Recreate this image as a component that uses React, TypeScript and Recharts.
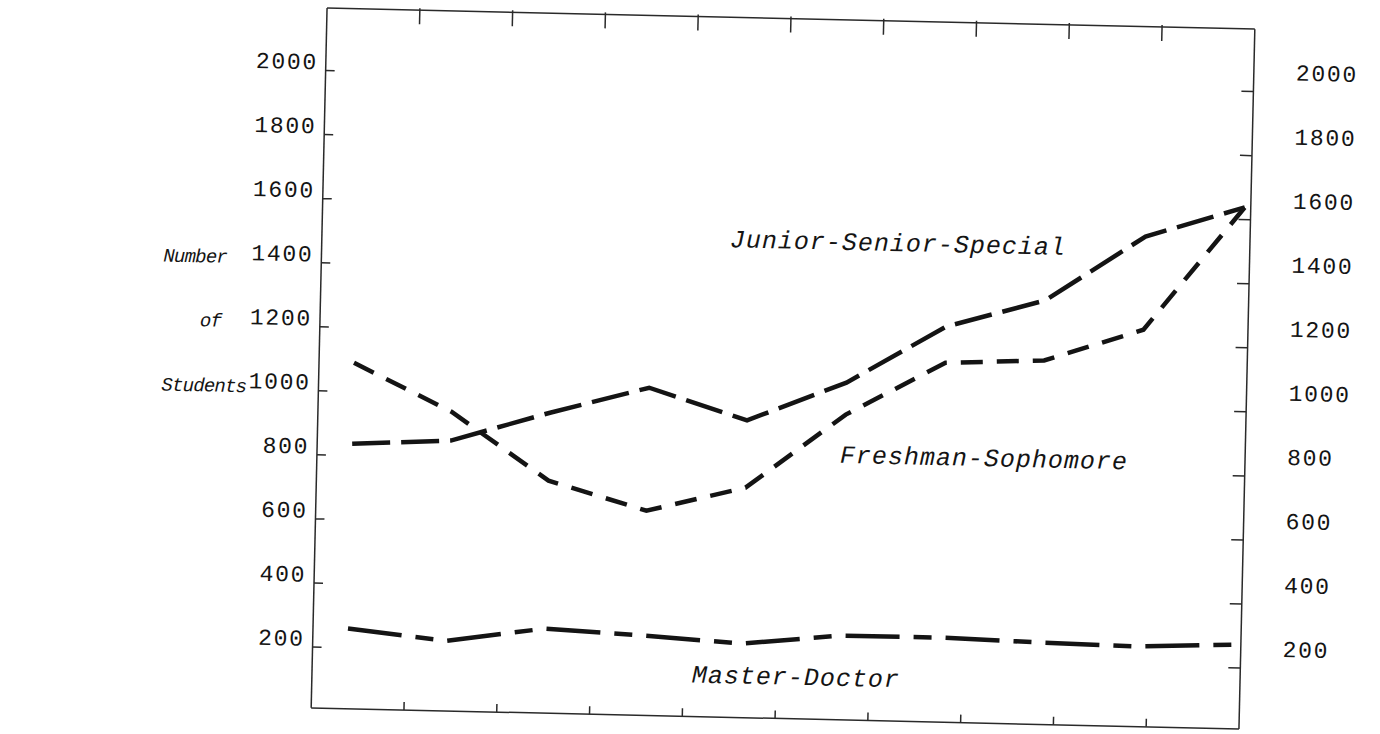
import React from "react";
import { LineChart, Line, XAxis, YAxis } from "recharts";

const periods = ["1", "2", "3", "4", "5", "6", "7", "8", "9", "10"];
const juniorSeniorSpecial = [837, 854, 948, 1033, 938, 1063, 1245, 1334, 1540, 1638];
const freshmanSophomore = [1090, 944, 736, 649, 728, 963, 1132, 1146, 1249, 1638];
const masterDoctor = [260, 229, 274, 259, 241, 273, 274, 266, 260, 273];
const yTicks = [200, 400, 600, 800, 1000, 1200, 1400, 1600, 1800, 2000];
const frameTicks = [1, 2, 3, 4, 5, 6, 7, 8, 9];

const data = periods.map((p, i) => ({
  period: p,
  jss: juniorSeniorSpecial[i],
  fs: freshmanSophomore[i],
  md: masterDoctor[i],
}));

const INK = "#141414";
const FRAME = "#2a2a2a";
const MONO = "'Liberation Mono', 'DejaVu Sans Mono', monospace";

const LeftTick = (props: any) => {
  const { x, y, payload } = props;
  return (
    <g>
      <line x1={x} y1={y} x2={x + 9} y2={y} stroke={FRAME} strokeWidth={1.5} />
      <text x={x - 8} y={y - 9} dy="0.35em" textAnchor="end" fontFamily={MONO} fontSize={23} letterSpacing={1.7} fill={INK}>
        {payload.value}
      </text>
    </g>
  );
};

const RightTick = (props: any) => {
  const { x, y, payload } = props;
  return (
    <g>
      <line x1={x - 12} y1={y} x2={x} y2={y} stroke={FRAME} strokeWidth={1.5} />
      <text x={x + 42} y={y - 20} dy="0.35em" textAnchor="start" fontFamily={MONO} fontSize={23} letterSpacing={1.7} fill={INK}>
        {payload.value}
      </text>
    </g>
  );
};

const BottomTick = (props: any) => {
  const { x, y } = props;
  return <line x1={x} y1={y} x2={x} y2={y - 8} stroke={FRAME} strokeWidth={1.5} />;
};

const TopTick = (props: any) => {
  const { x, y } = props;
  return <line x1={x} y1={y - 2} x2={x} y2={y + 14} stroke={FRAME} strokeWidth={1.5} />;
};

const frameKey = () => 5;

const labelStyle = (cx: number, cy: number, size: number, spacing: number): React.CSSProperties => ({
  position: "absolute",
  left: cx,
  top: cy,
  transform: "translate(-50%, -50%)",
  fontFamily: MONO,
  fontStyle: "italic",
  fontSize: size,
  letterSpacing: spacing,
  lineHeight: `${size}px`,
  whiteSpace: "nowrap",
  color: INK,
});

const sideStyle = (left: number, cy: number): React.CSSProperties => ({
  position: "absolute",
  left,
  top: cy,
  transform: "translateY(-50%)",
  fontFamily: MONO,
  fontStyle: "italic",
  fontSize: 19,
  letterSpacing: -0.8,
  lineHeight: "19px",
  whiteSpace: "nowrap",
  color: INK,
});

export default function App() {
  return (
    <div style={{ position: "absolute", left: 0, top: 0, width: 1380, height: 734, background: "#fff", overflow: "hidden" }}>
      <div
        style={{
          position: "absolute",
          left: 0,
          top: 0,
          width: 1380,
          height: 734,
          transform: "rotate(1.3deg)",
          transformOrigin: "783px 368.5px",
        }}
      >
        <LineChart
          width={1380}
          height={734}
          data={data}
          margin={{ top: 8.5, bottom: 5.5, left: 309, right: 123 }}
        >
          <XAxis xAxisId="data" dataKey="period" type="category" hide height={0} padding={{ left: 35, right: 6 }} />
          <XAxis
            xAxisId="bottom"
            dataKey={frameKey}
            type="number"
            orientation="bottom"
            domain={[0, 10]}
            ticks={frameTicks}
            allowDataOverflow
            height={10}
            tickSize={0}
            tickMargin={0}
            tickLine={false}
            axisLine={{ stroke: FRAME, strokeWidth: 1.5 }}
            tick={<BottomTick />}
          />
          <XAxis
            xAxisId="top"
            dataKey={frameKey}
            type="number"
            orientation="top"
            domain={[0, 10]}
            ticks={frameTicks}
            allowDataOverflow
            height={10}
            tickSize={0}
            tickMargin={0}
            tickLine={false}
            axisLine={{ stroke: FRAME, strokeWidth: 1.5 }}
            tick={<TopTick />}
          />
          <YAxis
            yAxisId="left"
            type="number"
            domain={[10, 2195]}
            ticks={yTicks}
            allowDataOverflow
            width={10}
            tickSize={0}
            tickMargin={0}
            tickLine={false}
            axisLine={{ stroke: FRAME, strokeWidth: 1.5 }}
            tick={<LeftTick />}
          />
          <YAxis
            yAxisId="right"
            orientation="right"
            type="number"
            domain={[10, 2195]}
            ticks={yTicks}
            allowDataOverflow
            width={10}
            tickSize={0}
            tickMargin={0}
            tickLine={false}
            axisLine={{ stroke: FRAME, strokeWidth: 1.5 }}
            tick={<RightTick />}
          />
          <Line
            xAxisId="data"
            yAxisId="left"
            type="linear"
            dataKey="jss"
            name="Junior-Senior-Special"
            stroke={INK}
            strokeWidth={4.5}
            strokeDasharray="38 11"
            dot={false}
            isAnimationActive={false}
          />
          <Line
            xAxisId="data"
            yAxisId="left"
            type="linear"
            dataKey="fs"
            name="Freshman-Sophomore"
            stroke={INK}
            strokeWidth={4.5}
            strokeDasharray="22 14"
            dot={false}
            isAnimationActive={false}
          />
          <Line
            xAxisId="data"
            yAxisId="left"
            type="linear"
            dataKey="md"
            name="Master-Doctor"
            stroke={INK}
            strokeWidth={4.5}
            strokeDasharray="54 14 18 14"
            dot={false}
            isAnimationActive={false}
          />
        </LineChart>
        <div style={labelStyle(895, 242, 25, 1)}>Junior-Senior-Special</div>
        <div style={labelStyle(986, 455, 25, 1)}>Freshman-Sophomore</div>
        <div style={labelStyle(803, 678, 25, 1)}>Master-Doctor</div>
        <div style={sideStyle(161, 271)}>Number</div>
        <div style={sideStyle(199, 335)}>of</div>
        <div style={sideStyle(162, 400)}>Students</div>
      </div>
    </div>
  );
}
